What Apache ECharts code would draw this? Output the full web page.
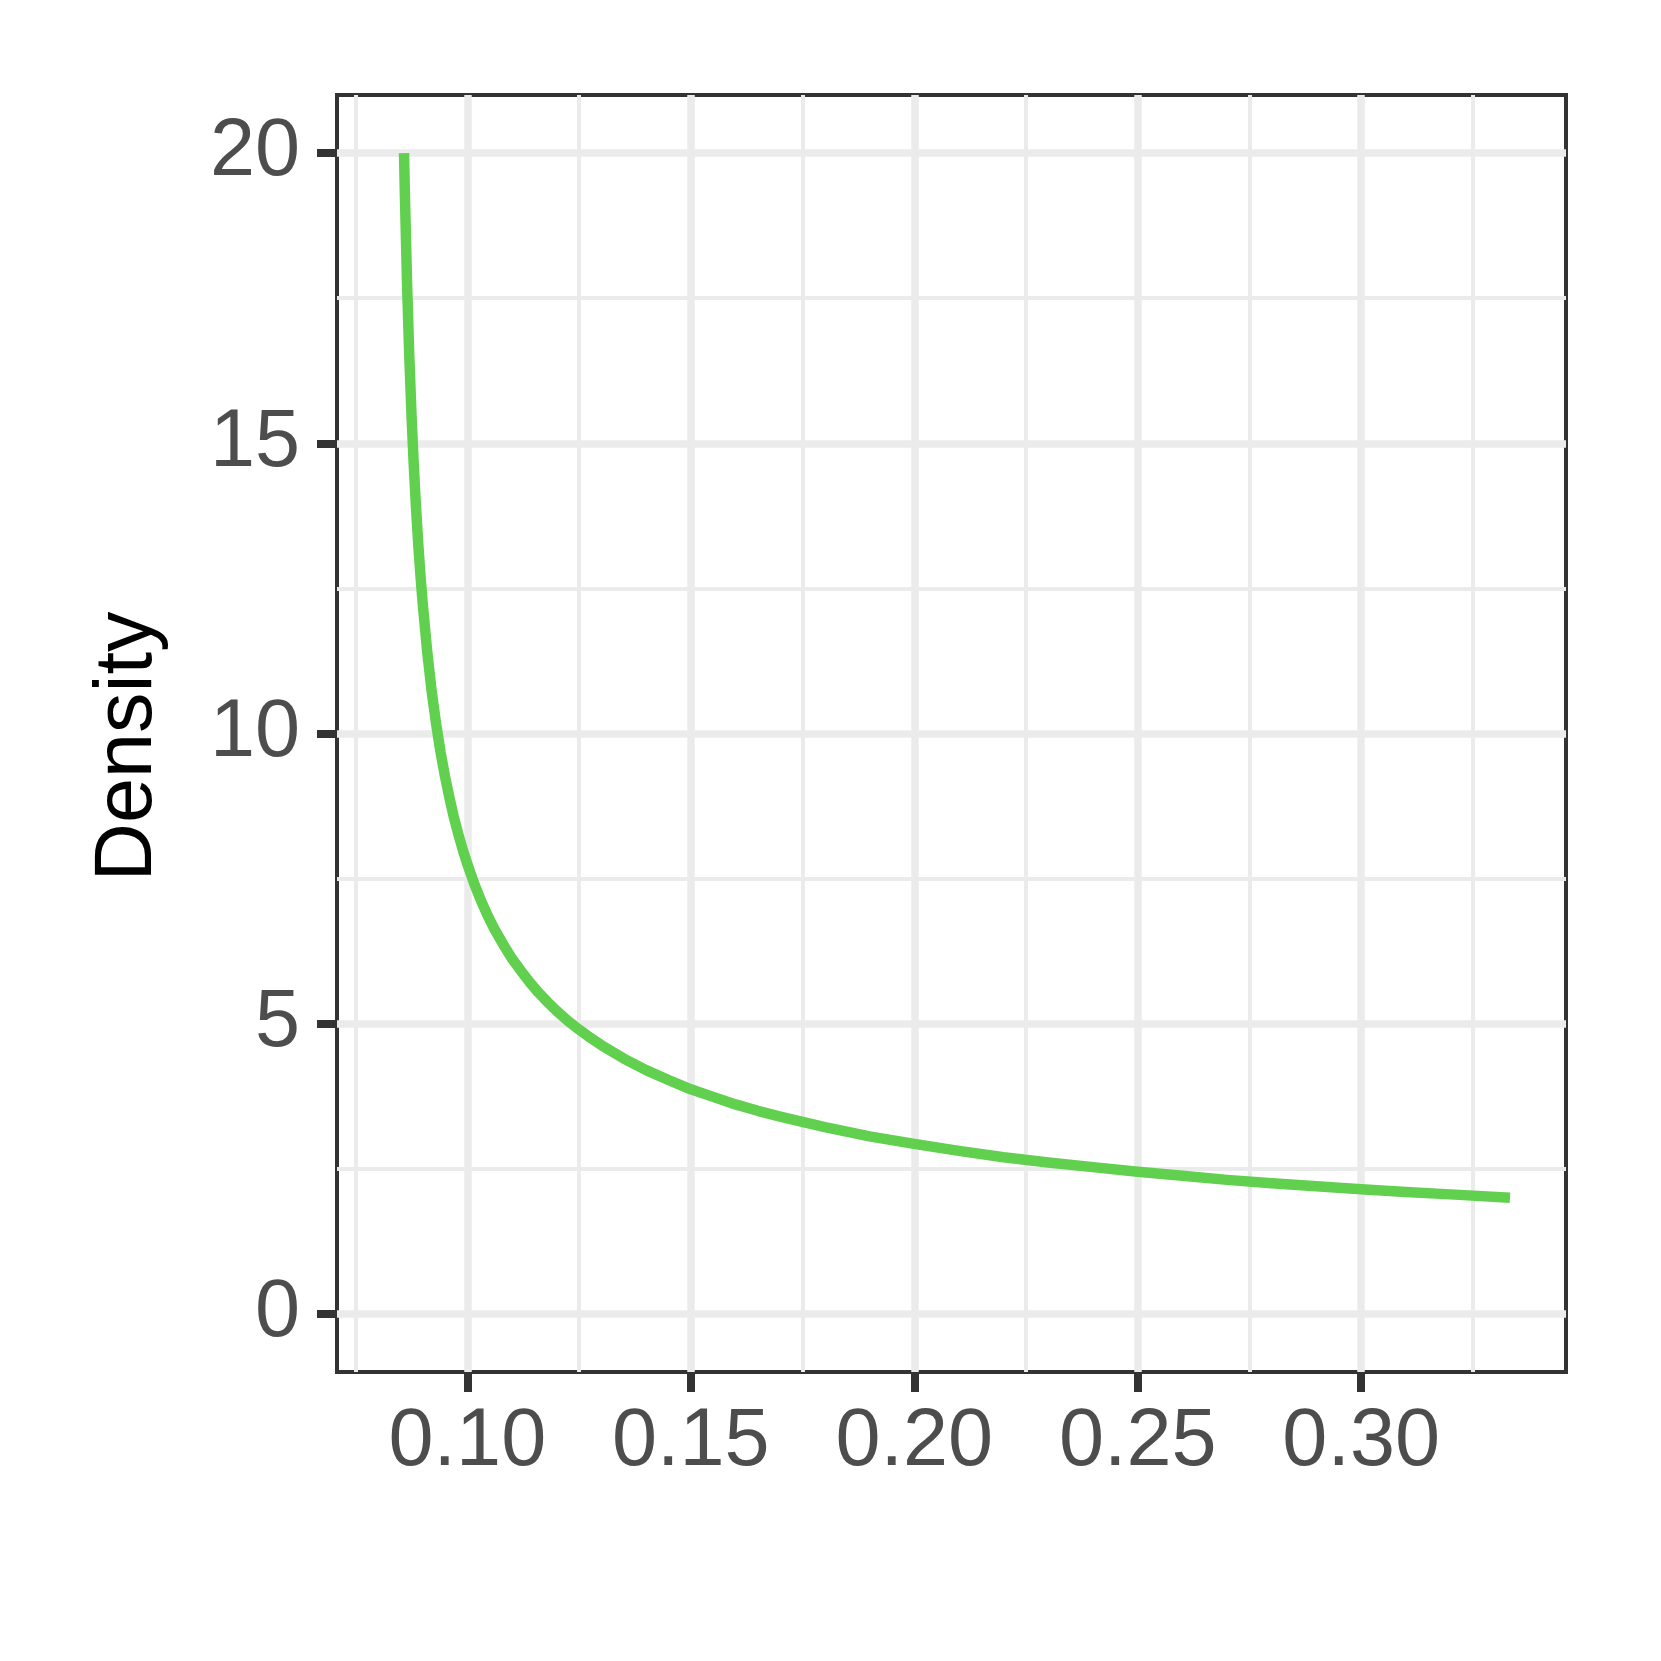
<!DOCTYPE html>
<html>
<head>
<meta charset="utf-8">
<script src="https://cdn.jsdelivr.net/npm/echarts@6/dist/echarts.min.js"></script>
<style>
html,body{margin:0;padding:0;background:#fff;}
#chart{width:1661px;height:1661px;}
</style>
</head>
<body>
<div id="chart"></div>
<script>
// Curve points (x, density)
const xValues = [0.08583, 0.0860, 0.0865, 0.0870, 0.0875, 0.0880, 0.0885, 0.0890, 0.0895, 0.0900,
  0.0910, 0.0920, 0.0930, 0.0940, 0.0950, 0.0960, 0.0970, 0.0980, 0.0990, 0.1000,
  0.1015, 0.1030, 0.1045, 0.1060, 0.1080, 0.1100, 0.1120, 0.1140, 0.1160, 0.1180,
  0.1200, 0.1225, 0.1250, 0.1275, 0.1300, 0.1350, 0.1400, 0.1450, 0.1500, 0.1550,
  0.1600, 0.1650, 0.1700, 0.1800, 0.1900, 0.2000, 0.2100, 0.2200, 0.2300, 0.2400,
  0.2500, 0.2600, 0.2700, 0.2800, 0.2900, 0.3000, 0.3100, 0.3200, 0.3333];
const densityValues = [20.0, 19.36, 17.77, 16.51, 15.49, 14.64, 13.91, 13.28, 12.73, 12.25,
  11.42, 10.74, 10.17, 9.68, 9.26, 8.89, 8.55, 8.26, 7.99, 7.75,
  7.42, 7.13, 6.87, 6.64, 6.37, 6.12, 5.91, 5.71, 5.53, 5.37,
  5.22, 5.05, 4.90, 4.76, 4.63, 4.40, 4.20, 4.03, 3.87, 3.74,
  3.61, 3.50, 3.40, 3.22, 3.06, 2.93, 2.81, 2.70, 2.61, 2.53,
  2.45, 2.38, 2.31, 2.25, 2.20, 2.15, 2.10, 2.06, 2.00];

// Axis ticks / grid
const xMajorTicks = [0.10, 0.15, 0.20, 0.25, 0.30];
const xMinorTicks = [0.075, 0.125, 0.175, 0.225, 0.275, 0.325];
const yMajorTicks = [0, 5, 10, 15, 20];
const yMinorTicks = [2.5, 7.5, 12.5, 17.5];
const xRange = [0.070833, 0.345833];
const yRange = [-1, 21];
const yTitle = 'Density';

const seriesData = xValues.map((x, i) => [x, densityValues[i]]);

const gridColor = '#ebebeb';
const gridLines = []
  .concat(xMinorTicks.map(v => ({ xAxis: v, lineStyle: { width: 4, color: gridColor, type: 'solid' } })))
  .concat(yMinorTicks.map(v => ({ yAxis: v, lineStyle: { width: 4, color: gridColor, type: 'solid' } })))
  .concat(xMajorTicks.map(v => ({ xAxis: v, lineStyle: { width: 7.5, color: gridColor, type: 'solid' } })))
  .concat(yMajorTicks.map(v => ({ yAxis: v, lineStyle: { width: 7.5, color: gridColor, type: 'solid' } })));

const font = 'Liberation Sans, Arial, Helvetica, sans-serif';

const chart = echarts.init(document.getElementById('chart'), null, { renderer: 'canvas' });
chart.setOption({
  animation: false,
  backgroundColor: '#ffffff',
  grid: {
    left: 337, right: 95, top: 95, bottom: 289,
    show: true, borderColor: '#333333', borderWidth: 4, backgroundColor: '#ffffff',
    containLabel: false
  },
  xAxis: {
    type: 'value',
    min: xRange[0], max: xRange[1],
    axisLine: { show: false, onZero: false },
    splitLine: { show: false },
    axisTick: { show: true, length: 20, lineStyle: { color: '#333333', width: 8 }, customValues: xMajorTicks },
    axisLabel: {
      show: true, margin: 30, fontSize: 81, fontFamily: font, color: '#4d4d4d',
      customValues: xMajorTicks,
      formatter: v => Number(v).toFixed(2)
    }
  },
  yAxis: {
    type: 'value',
    min: yRange[0], max: yRange[1],
    axisLine: { show: false, onZero: false },
    splitLine: { show: false },
    axisTick: { show: true, length: 20, lineStyle: { color: '#333333', width: 8 }, customValues: yMajorTicks },
    axisLabel: {
      show: true, margin: 37, fontSize: 81, fontFamily: font, color: '#4d4d4d',
      customValues: yMajorTicks,
      formatter: v => String(Math.round(v))
    },
    name: yTitle,
    nameLocation: 'middle',
    nameGap: 168,
    nameTextStyle: { fontSize: 81, fontFamily: font, color: '#000000', padding: [0, 26, 0, 0] }
  },
  series: [
    {
      type: 'line',
      data: [],
      z: 1,
      silent: true,
      markLine: {
        silent: true,
        z: 1,
        precision: 6,
        symbol: ['none', 'none'],
        label: { show: false },
        emphasis: { disabled: true },
        animation: false,
        data: gridLines
      }
    },
    {
      type: 'line',
      data: seriesData,
      z: 3,
      showSymbol: false,
      symbol: 'none',
      smooth: false,
      clip: true,
      lineStyle: { color: '#61D04F', width: 10.5, cap: 'butt', join: 'round' }
    }
  ]
});
</script>
</body>
</html>
